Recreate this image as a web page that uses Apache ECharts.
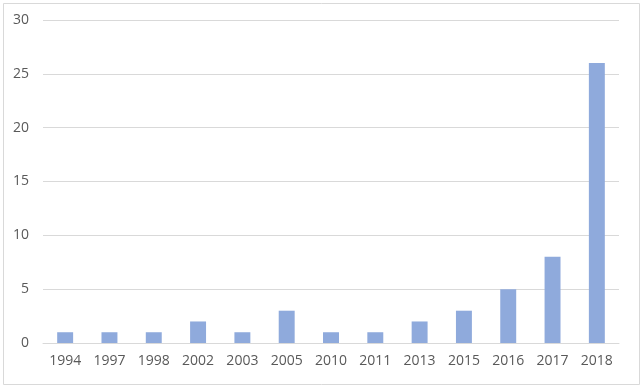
<!DOCTYPE html>
<html>
<head>
<meta charset="utf-8">
<script src="https://cdn.jsdelivr.net/npm/echarts@6/dist/echarts.min.js"></script>
<style>
html,body{margin:0;padding:0;background:#fff;}
#c{width:640px;height:385px;}
</style>
</head>
<body>
<div id="c"></div>
<script>
const categories = ['1994','1997','1998','2002','2003','2005','2010','2011','2013','2015','2016','2017','2018'];
const values = [1,1,1,2,1,3,1,1,2,3,5,8,26];
const yTicks = {min:0, max:30, interval:5};

const chart = echarts.init(document.getElementById('c'), null, {renderer:'canvas'});
chart.setOption({
  backgroundColor:'#fff',
  animation:false,
  graphic:[{
    type:'rect', left:1, top:1, silent:true,
    shape:{width:636, height:381},
    style:{fill:'none', stroke:'#d9d9d9', lineWidth:1}
  }],
  grid:{left:43, right:21, top:20, bottom:42, containLabel:false},
  xAxis:{
    type:'category', data:categories,
    axisLine:{show:true, lineStyle:{color:'#d9d9d9', width:1}},
    axisTick:{show:false},
    axisLabel:{color:'#595959', fontSize:14, fontFamily:'Open Sans, Liberation Sans, sans-serif', margin:11}
  },
  yAxis:{
    type:'value', min:yTicks.min, max:yTicks.max, interval:yTicks.interval,
    axisLine:{show:false}, axisTick:{show:false},
    splitLine:{lineStyle:{color:'#d9d9d9', width:1}},
    axisLabel:{color:'#595959', fontSize:14, fontFamily:'Open Sans, Liberation Sans, sans-serif', margin:14}
  },
  series:[{
    type:'bar', data:values, barWidth:'36%',
    itemStyle:{color:'#8faadc'}
  }]
});
</script>
</body>
</html>
